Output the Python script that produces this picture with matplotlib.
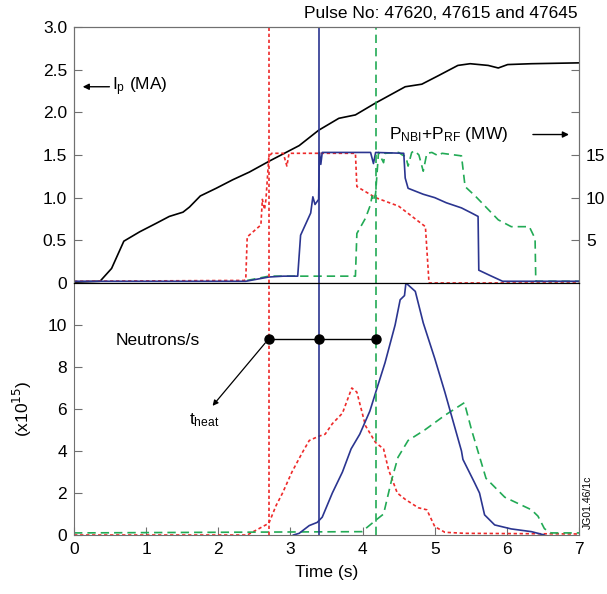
import numpy as np
import matplotlib
matplotlib.use("Agg")
import matplotlib.pyplot as plt

plt.rcParams['font.family'] = ['Liberation Sans', 'DejaVu Sans']
plt.rcParams['font.size'] = 12.5

# plasma current Ip (MA)
ip_t = [0, 0.36, 0.52, 0.69, 0.91, 1.14, 1.32, 1.51, 1.60, 1.75, 1.97, 2.20, 2.43, 2.71,
        3.12, 3.39, 3.67, 3.90, 4.18, 4.59, 4.82, 5.05, 5.32, 5.49, 5.74, 5.88, 6.01, 6.34, 7.0]
ip_v = [0.01, 0.02, 0.17, 0.49, 0.60, 0.70, 0.78, 0.83, 0.89, 1.02, 1.11, 1.21, 1.30, 1.43,
        1.61, 1.79, 1.93, 1.97, 2.11, 2.30, 2.33, 2.43, 2.55, 2.57, 2.55, 2.52, 2.56, 2.57, 2.58]

# heating power P_NBI+P_RF (MW)
p_red_t = [0, 2.36, 2.38, 2.40, 2.59, 2.61, 2.64, 2.66, 2.70, 2.74, 2.90, 2.95, 2.98, 3.90,
           3.92, 4.18, 4.50, 4.87, 4.92, 7.0]
p_red_v = [0.2, 0.3, 0.4, 5.4, 6.8, 9.8, 8.6, 9.8, 14.8, 15.2, 15.2, 13.7, 15.2, 15.2,
           11.3, 10.0, 9.0, 6.6, 0.0, 0.0]
p_blue_t = [0, 2.38, 2.70, 2.90, 3.10, 3.14, 3.28, 3.31, 3.34, 3.39, 3.40, 3.42, 3.44, 4.11,
            4.15, 4.18, 4.57, 4.59, 4.63, 4.84, 5.00, 5.16, 5.37, 5.51, 5.60, 5.61, 5.76,
            5.94, 7.0]
p_blue_v = [0.2, 0.2, 0.7, 0.8, 0.8, 5.6, 8.2, 10.1, 9.2, 9.8, 15.3, 13.9, 15.3, 15.3,
            14.0, 15.3, 15.2, 12.3, 11.1, 10.4, 10.0, 9.4, 8.8, 8.2, 7.8, 1.5, 0.9, 0.2, 0.2]
p_green_t = [2.40, 2.70, 3.90, 3.92, 4.04, 4.11, 4.13, 4.15, 4.18, 4.22, 4.29, 4.31, 4.50,
             4.55, 4.60, 4.63, 4.68, 4.72, 4.78, 4.84, 4.89, 4.96, 5.05, 5.10, 5.37, 5.42,
             5.56, 5.88, 6.06, 6.31, 6.39, 6.40, 7.0]
p_green_v = [0.3, 0.8, 0.8, 5.8, 7.6, 9.2, 10.2, 9.6, 10.5, 15.3, 14.1, 15.2, 15.3,
             15.0, 14.8, 13.7, 15.3, 15.5, 15.0, 13.1, 15.2, 15.3, 14.9, 15.2, 14.9, 11.3,
             10.2, 7.4, 6.6, 6.6, 5.2, 0.2, 0.2]

# neutron rate (x10^15 /s)
n_red_t = [0, 2.40, 2.70, 2.80, 2.89, 3.02, 3.16, 3.26, 3.39, 3.48, 3.58, 3.72, 3.85,
           3.92, 4.04, 4.18, 4.29, 4.36, 4.48, 4.59, 4.77, 4.89, 5.00, 5.14, 5.42, 7.0]
n_red_v = [0.0, 0.0, 0.56, 1.4, 2.0, 3.0, 3.9, 4.5, 4.7, 4.8, 5.3, 5.8, 7.0,
           6.8, 5.2, 4.4, 4.1, 3.1, 2.0, 1.7, 1.3, 1.2, 0.4, 0.13, 0.08, 0.05]
n_blue_t = [3.04, 3.12, 3.26, 3.37, 3.44, 3.58, 3.72, 3.84, 3.96, 4.10, 4.20, 4.31, 4.45,
            4.52, 4.58, 4.60, 4.73, 4.84, 5.00, 5.14, 5.37, 5.39, 5.55, 5.62, 5.69, 5.83,
            6.06, 6.34, 6.52]
n_blue_v = [0.0, 0.08, 0.45, 0.6, 0.85, 2.0, 3.0, 4.1, 4.8, 5.9, 7.0, 8.2, 10.0,
            11.2, 11.4, 12.0, 11.6, 10.1, 8.4, 6.8, 4.0, 3.6, 2.5, 2.0, 0.96, 0.48,
            0.29, 0.16, 0.0]
n_green_t = [0, 3.99, 4.18, 4.29, 4.40, 4.49, 4.63, 4.86, 5.14, 5.41, 5.51, 5.71, 5.97,
             6.34, 6.43, 6.52, 6.61, 7.0]
n_green_v = [0.1, 0.16, 0.7, 1.0, 2.6, 3.7, 4.5, 5.0, 5.7, 6.3, 5.0, 2.7, 1.8,
             1.2, 0.9, 0.3, 0.1, 0.1]

t_heat = [2.70, 3.40, 4.18]

red = '#ee2a2a'
blue = '#2b3590'
green = '#22aa55'
gray = '#707070'
lw = 1.2
dot = (0, (2, 1.6))
dash = (0, (5, 3))

fig = plt.figure(figsize=(6.07, 5.94), dpi=100)
ax1 = fig.add_axes([0.122, 0.5236, 0.832, 0.4309])
ax2 = fig.add_axes([0.122, 0.0993, 0.832, 0.4243], sharex=ax1)

# top panel: current and power (power on MA scale x10)
ax1.plot(ip_t, ip_v, color='black', lw=lw)
ax1.plot(p_red_t, np.array(p_red_v) / 10, color=red, lw=lw, ls=dot)
ax1.plot(p_green_t, np.array(p_green_v) / 10, color=green, lw=lw, ls=dash)
ax1.plot(p_blue_t, np.array(p_blue_v) / 10, color=blue, lw=lw)
ax1.set_ylim(0, 3.0)
ax1.set_xlim(0, 7)
ax1.set_yticks(np.arange(0, 3.01, 0.5))
ax1.set_yticklabels(['0', '0.5', '1.0', '1.5', '2.0', '2.5', '3.0'])
ax1.tick_params(axis='x', which='both', bottom=False, labelbottom=False)

axr = ax1.twinx()
axr.set_ylim(0, 30)
axr.set_yticks([5, 10, 15, 20, 25])
axr.set_yticklabels(['5', '10', '15', '', ''])

# bottom panel: neutrons
ax2.plot(n_red_t, n_red_v, color=red, lw=lw, ls=dot)
ax2.plot(n_green_t, n_green_v, color=green, lw=lw, ls=dash)
ax2.plot(n_blue_t, n_blue_v, color=blue, lw=lw)
ax2.set_ylim(0, 12)
ax2.set_yticks(np.arange(0, 11, 2))
ax2.set_xticks(range(8))
ax2.set_xlabel('Time (s)', labelpad=6)
ax2.set_ylabel('(x10$^{15}$)', labelpad=10)

for ax in (ax1, ax2):
    ax.axvline(t_heat[0], color=red, lw=lw, ls=dot)
    ax.axvline(t_heat[1], color=blue, lw=lw)
    ax.axvline(t_heat[2], color=green, lw=lw, ls=dash)

for ax in (ax1, ax2, axr):
    for s in ax.spines.values():
        s.set_color(gray)
    ax.tick_params(direction='in', length=6, color=gray, labelsize=12.5, pad=5)
ax1.spines['bottom'].set_color('black')
ax2.spines['top'].set_color('black')
axr.spines['bottom'].set_color('black')

# t_heat markers
ax2.plot(t_heat, [9.35] * 3, color='black', lw=1.0, marker='o', ms=6.5)
ax2.annotate('', xy=(1.92, 6.15), xytext=(t_heat[0], 9.35),
             arrowprops=dict(arrowstyle='-|>', color='black', lw=0.9, mutation_scale=8,
                             shrinkA=4, shrinkB=0))
ax2.text(1.6, 5.45, '$\\mathregular{t_{heat}}$', fontsize=12.5, va='center')
ax2.text(0.58, 9.25, 'Neutrons/s', fontsize=12.5, va='center')

ax1.annotate('', xy=(0.12, 2.30), xytext=(0.49, 2.30),
             arrowprops=dict(arrowstyle='-|>', color='black', lw=1.0, mutation_scale=9,
                             shrinkA=0, shrinkB=0))
ax1.text(0.52, 2.30, '$\\mathregular{I_p}$ (MA)', fontsize=12.5, va='center')
ax1.text(4.37, 1.74, '$\\mathregular{P_{NBI}{+}P_{RF}}$ (MW)', fontsize=12.5, va='center')
ax1.annotate('', xy=(6.86, 1.74), xytext=(6.36, 1.74),
             arrowprops=dict(arrowstyle='-|>', color='black', lw=1.0, mutation_scale=9,
                             shrinkA=0, shrinkB=0))

fig.text(0.952, 0.978, 'Pulse No: 47620, 47615 and 47645', ha='right', va='center',
         fontsize=12.5)
fig.text(0.968, 0.155, 'JG01.46/1c', rotation=90, ha='center', va='center', fontsize=7.5)

fig.savefig('out.png', dpi=100)
